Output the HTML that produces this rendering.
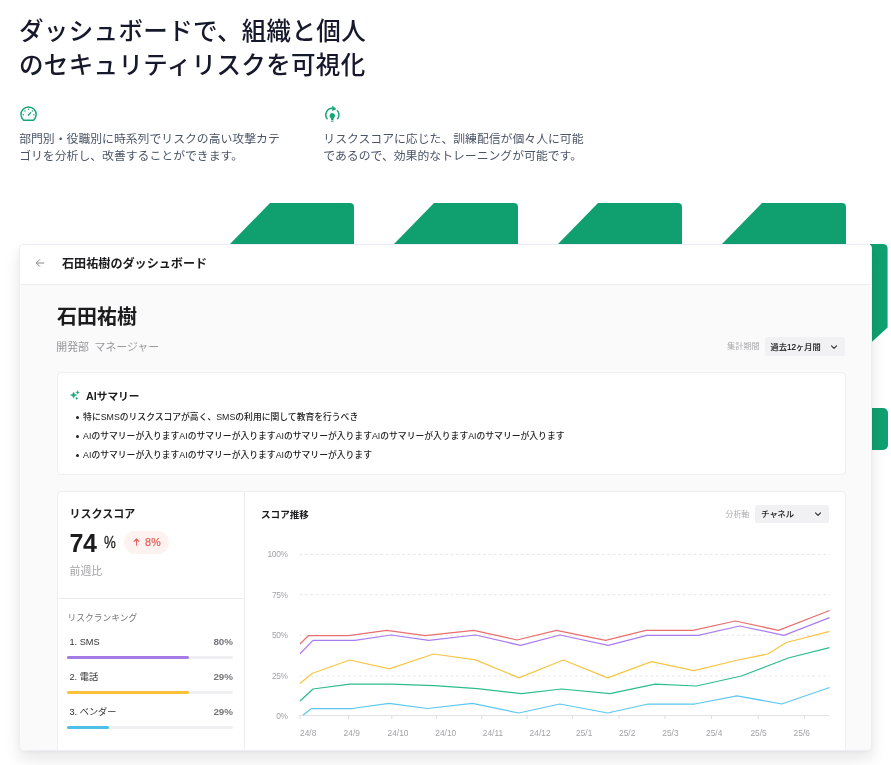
<!DOCTYPE html>
<html lang="ja">
<head>
<meta charset="utf-8">
<title>ダッシュボード</title>
<style>
*{box-sizing:border-box;margin:0;padding:0}
html,body{width:891px;height:765px;overflow:hidden;background:#fff}
body{position:relative;font-family:"Liberation Sans","Noto Sans CJK JP",sans-serif;color:#1a1b2e;-webkit-font-smoothing:antialiased}
.abs{position:absolute;white-space:nowrap}
h2{position:absolute;left:19px;top:12.700px;font-size:24.500px;line-height:33.900px;letter-spacing:.36px;font-weight:500;color:#16182b;white-space:nowrap;font-family:"Noto Sans CJK JP","Liberation Sans",sans-serif}
.desc{position:absolute;top:129.650px;font-size:11.850px;line-height:16.900px;color:#4b5567;white-space:nowrap;font-family:"Noto Sans CJK JP","Liberation Sans",sans-serif}
.tab{position:absolute;top:203px;width:124px;height:41px;background:#10a06f;border-top-right-radius:4px;clip-path:polygon(40px 0,100% 0,100% 100%,0 100%)}
.side1{position:absolute;left:870px;top:243.700px;width:17.600px;height:98px;background:#10a06f;border-top-right-radius:5px;clip-path:polygon(0 0,100% 0,100% 83.700px,2px 100%,0 100%)}
.side2{position:absolute;left:866px;top:407.700px;width:21.600px;height:42.300px;background:#10a06f;border-radius:0 5px 5px 0}
.panel{position:absolute;left:19px;top:243.500px;width:853px;height:507.500px;background:#fafafa;border-radius:4px;border:1px solid #eeeef4;box-shadow:0 8px 15px rgba(20,20,30,.10),0 1px 3px rgba(20,20,40,.03);overflow:hidden;font-family:"Liberation Sans","Noto Sans CJK JP",sans-serif;color:#1c1c1e}
.phead{position:absolute;left:0;top:0;width:100%;height:41px;background:#fff;border-bottom:1px solid #efeff1}
.card{position:absolute;background:#fff;border:1px solid #efeff2;border-radius:4px}
.sel{background:#f1f1f3;border-radius:2px;display:flex;align-items:center;justify-content:space-between;padding:0 7px 0 6px;font-size:8.200px;font-weight:400;color:#111;-webkit-text-stroke:.18px #111}
.sel span{position:relative;top:-.8px}
.sum{position:absolute;left:17.500px;top:35px;list-style:none;font-size:8.800px;line-height:18.900px;color:#222;font-weight:500;white-space:nowrap}
.sum li{position:relative;padding-left:7.600px}
.sum li:before{content:"";position:absolute;left:0;top:8.300px;width:3px;height:3px;border-radius:50%;background:#222}
.badge{background:#fdf2f0;border-radius:12px;color:#e8635c;font-size:10.600px;line-height:23.500px;text-align:center;font-weight:400;-webkit-text-stroke:.25px #e8635c;letter-spacing:.3px;padding-left:1px}
.rk{left:11.500px;font-size:9.200px;line-height:14px;color:#333}
.pc{left:125px;width:50px;text-align:right;font-size:9.800px;line-height:14px;color:#77777c;font-weight:700}
.bar{position:absolute;left:9px;width:166px;height:3px;border-radius:2px;background:#f0f0f2}
.bar i{display:block;height:3px;border-radius:2px}
</style>
</head>
<body>
<h2>ダッシュボードで、組織と個人<br>のセキュリティリスクを可視化</h2>

<svg class="abs" style="left:19px;top:104px" width="20" height="20" viewBox="0 0 20 20" fill="none" stroke="#17a673" stroke-width="1.500" stroke-linecap="round" stroke-linejoin="round"><path d="M4.52 16.2 A7.6 7.6 0 1 1 14.58 16.2 Z"/><path d="M9.55 10.9 L11.65 8.6" stroke-width="1.300"/><circle cx="9.55" cy="10.9" r="0.800" fill="#17a673" stroke="none"/><g fill="#17a673" stroke="none"><circle cx="9.55" cy="5.3" r=".75"/><circle cx="4.250000000000001" cy="10.7" r=".75"/><circle cx="14.850000000000001" cy="10.7" r=".75"/><circle cx="5.9" cy="7.0" r=".7"/><circle cx="13.3" cy="7.0" r=".7"/></g></svg>
<div class="desc" style="left:19.200px">部門別・役職別に時系列でリスクの高い攻撃カテ<br>ゴリを分析し、改善することができます。</div>

<svg class="abs" style="left:322px;top:104px" width="20" height="20" viewBox="0 0 20 20" fill="none" stroke="#17a673" stroke-width="1.500" stroke-linecap="butt" stroke-linejoin="round"><path d="M5.46 15.20 A6.55 6.55 0 0 1 10.63 4.35"/><path d="M10.40 2.05 L14.08 4.93 L10.40 6.65 Z" fill="#17a673" stroke-width=".5"/><path d="M15.11 6.35 A6.55 6.55 0 0 1 15.34 15.20"/><path d="M10.3 8.95 a2.75 2.75 0 0 1 1.55 5.02 l-.5 2.300 h-2.100 l-.5 -2.300 A2.75 2.75 0 0 1 10.3 8.95 z" fill="#17a673" stroke="none"/><path d="M9.4 17.300h1.800" stroke-width=".9" stroke-linecap="round"/></svg>
<div class="desc" style="left:323.300px">リスクスコアに応じた、訓練配信が個々人に可能<br>であるので、効果的なトレーニングが可能です。</div>

<div class="tab" style="left:230px"></div>
<div class="tab" style="left:394px"></div>
<div class="tab" style="left:558px"></div>
<div class="tab" style="left:722px"></div>
<div class="side1"></div>
<div class="side2"></div>

<div class="panel"><div class="abs" style="left:0;top:-.5px;width:852px;height:507px">
  <div class="phead"></div>
  <svg class="abs" style="left:15px;top:14.4px" width="10" height="10" viewBox="0 0 10 10" fill="none" stroke="#8a8a8f" stroke-width="1" stroke-linecap="round" stroke-linejoin="round"><path d="M8.8 5H1.3M4.7 1.600L1.300 5l3.400 3.400"/></svg>
  <div class="abs" style="left:42px;top:11.700px;font-size:12.100px;line-height:17px;font-weight:700">石田祐樹のダッシュボード</div>

  <div class="abs" style="left:37px;top:58px;font-size:20px;line-height:30px;font-weight:700">石田祐樹</div>
  <div class="abs" style="left:36.300px;top:95px;font-size:10.900px;word-spacing:2.500px;line-height:17px;color:#98989d">開発部 マネージャー</div>
  <div class="abs" style="left:707px;top:97px;font-size:8.2px;line-height:12px;color:#a9a9ae">集計期間</div>
  <div class="abs sel" style="left:744.600px;top:93.200px;width:80.500px;height:18.700px"><span>過去12ヶ月間</span><svg width="8" height="8" viewBox="0 0 8 8" fill="none" stroke="#333" stroke-width="1.2" stroke-linecap="round" stroke-linejoin="round"><path d="M1.5 2.8L4 5.3l2.5-2.5"/></svg></div>

  <!-- AI summary -->
  <div class="card" style="left:37px;top:128px;width:789px;height:103px">
    <svg class="abs" style="left:12px;top:17px" width="12" height="12" viewBox="0 0 12 12" fill="#17a673" stroke="#17a673" stroke-width=".4" stroke-linejoin="round"><path d="M3.60 1.90 L4.51 4.19 L6.80 5.10 L4.51 6.01 L3.60 8.30 L2.69 6.01 L0.40 5.10 L2.69 4.19Z"/><path d="M7.60 0.60 L8.11 1.89 L9.40 2.40 L8.11 2.91 L7.60 4.20 L7.09 2.91 L5.80 2.40 L7.09 1.89Z"/><circle cx="6.700" cy="8.300" r=".9"/></svg>
    <div class="abs" style="left:28px;top:14.700px;font-size:10.700px;line-height:16px;font-weight:700">AIサマリー</div>
    <ul class="sum">
      <li>特にSMSのリスクスコアが高く、SMSの利用に関して教育を行うべき</li>
      <li>AIのサマリーが入りますAIのサマリーが入りますAIのサマリーが入りますAIのサマリーが入りますAIのサマリーが入ります</li>
      <li>AIのサマリーが入りますAIのサマリーが入りますAIのサマリーが入ります</li>
    </ul>
  </div>

  <!-- score card -->
  <div class="card" style="left:37px;top:247px;width:789px;height:271px;border-radius:4px 4px 0 0">
    <div class="abs" style="left:185.500px;top:0;width:1px;height:270px;background:#ededf0"></div>
    <div class="abs" style="left:0;top:106.300px;width:186px;height:1px;background:#ededf0"></div>
    <div class="abs" style="left:11.500px;top:14.400px;font-size:11px;line-height:16px;font-weight:700">リスクスコア</div>
    <div class="abs" style="left:11.500px;top:35px;font-size:25px;line-height:32px;font-weight:700;letter-spacing:-.3px">74</div>
    <div class="abs" style="left:46.100px;top:40.300px;font-size:17px;line-height:22px;font-weight:400;color:#222;-webkit-text-stroke:.3px #222;transform:scaleX(.78);transform-origin:0 50%">%</div>
    <div class="abs badge" style="left:66.300px;top:38.700px;width:44.500px;height:23.500px"><svg width="7" height="8" viewBox="0 0 7 8" fill="none" stroke="#e8635c" stroke-width="1.100" stroke-linecap="round" stroke-linejoin="round" style="margin-right:5px"><path d="M3.500 7.200V1M1 3.400L3.500 .9 6 3.400"/></svg>8%</div>
    <div class="abs" style="left:11.500px;top:71px;font-size:10.900px;line-height:17px;color:#a3a3a8">前週比</div>

    <div class="abs" style="left:9.500px;top:118.700px;font-size:8.750px;line-height:14px;color:#77777c">リスクランキング</div>
    <div class="abs rk" style="top:142.700px">1. SMS</div><div class="abs pc" style="top:142.700px">80%</div>
    <div class="bar" style="top:164px"><i style="width:122px;background:#a57be6"></i></div>
    <div class="abs rk" style="top:178.100px">2. 電話</div><div class="abs pc" style="top:178.100px">29%</div>
    <div class="bar" style="top:199px"><i style="width:122px;background:#fbc13a"></i></div>
    <div class="abs rk" style="top:213.100px">3. ベンダー</div><div class="abs pc" style="top:213.100px">29%</div>
    <div class="bar" style="top:234px"><i style="width:42px;background:#4ec0e6"></i></div>

    <div class="abs" style="left:203px;top:15px;font-size:9.600px;line-height:15px;font-weight:700">スコア推移</div>
    <div class="abs" style="left:667.500px;top:16px;font-size:7.900px;line-height:13px;color:#adadb2">分析軸</div>
    <div class="abs sel" style="left:697.300px;top:13.200px;width:73.600px;height:18px"><span>チャネル</span><svg width="8" height="8" viewBox="0 0 8 8" fill="none" stroke="#333" stroke-width="1.200" stroke-linecap="round" stroke-linejoin="round"><path d="M1.500 2.800L4 5.300l2.500-2.500"/></svg></div>
    <!--CS--><svg class="abs" style="left:-1px;top:-1px" width="788" height="270" viewBox="57 491 788 270" font-family="Liberation Sans, sans-serif" font-size="8.400" letter-spacing="-0.35" fill="#a3a3a8">
<line x1="299.5" x2="829.6" y1="554.4" y2="554.4" stroke="#e6e6e9" stroke-width="1" stroke-dasharray="2.7 2.7"/>
<text x="287.6" y="557.3" text-anchor="end">100%</text>
<line x1="299.5" x2="829.6" y1="594.7" y2="594.7" stroke="#e6e6e9" stroke-width="1" stroke-dasharray="2.7 2.7"/>
<text x="287.6" y="597.6" text-anchor="end">75%</text>
<line x1="299.5" x2="829.6" y1="635.3" y2="635.3" stroke="#e6e6e9" stroke-width="1" stroke-dasharray="2.7 2.7"/>
<text x="287.6" y="638.1999999999999" text-anchor="end">50%</text>
<line x1="299.5" x2="829.6" y1="676" y2="676" stroke="#e6e6e9" stroke-width="1" stroke-dasharray="2.7 2.7"/>
<text x="287.6" y="678.9" text-anchor="end">25%</text>
<line x1="299.5" x2="829.6" y1="715.5" y2="715.5" stroke="#e3e3e6" stroke-width="1"/>
<text x="287.6" y="718.7" text-anchor="end">0%</text>
<line x1="300" x2="300" y1="715.5" y2="719.0" stroke="#dcdce0" stroke-width="1"/>
<line x1="348.6" x2="348.6" y1="715.5" y2="719.0" stroke="#dcdce0" stroke-width="1"/>
<line x1="391.8" x2="391.8" y1="715.5" y2="719.0" stroke="#dcdce0" stroke-width="1"/>
<line x1="436.4" x2="436.4" y1="715.5" y2="719.0" stroke="#dcdce0" stroke-width="1"/>
<line x1="481.7" x2="481.7" y1="715.5" y2="719.0" stroke="#dcdce0" stroke-width="1"/>
<line x1="527" x2="527" y1="715.5" y2="719.0" stroke="#dcdce0" stroke-width="1"/>
<line x1="572.4" x2="572.4" y1="715.5" y2="719.0" stroke="#dcdce0" stroke-width="1"/>
<line x1="619" x2="619" y1="715.5" y2="719.0" stroke="#dcdce0" stroke-width="1"/>
<line x1="665" x2="665" y1="715.5" y2="719.0" stroke="#dcdce0" stroke-width="1"/>
<line x1="711.6" x2="711.6" y1="715.5" y2="719.0" stroke="#dcdce0" stroke-width="1"/>
<line x1="758.3" x2="758.3" y1="715.5" y2="719.0" stroke="#dcdce0" stroke-width="1"/>
<line x1="804.4" x2="804.4" y1="715.5" y2="719.0" stroke="#dcdce0" stroke-width="1"/>
<text x="300" y="736.3" letter-spacing="0">24/8</text>
<text x="343.6" y="736.3" letter-spacing="0">24/9</text>
<text x="387.5" y="736.3" letter-spacing="0">24/10</text>
<text x="435.3" y="736.3" letter-spacing="0">24/10</text>
<text x="482.8" y="736.3" letter-spacing="0">24/11</text>
<text x="529.6" y="736.3" letter-spacing="0">24/12</text>
<text x="576" y="736.3" letter-spacing="0">25/1</text>
<text x="619" y="736.3" letter-spacing="0">25/2</text>
<text x="662.3" y="736.3" letter-spacing="0">25/3</text>
<text x="706" y="736.3" letter-spacing="0">25/4</text>
<text x="750.4" y="736.3" letter-spacing="0">25/5</text>
<text x="793.6" y="736.3" letter-spacing="0">25/6</text>
<polyline points="300,644 308.3,635.7 348.6,635.7 386.8,630.3 425.3,635.7 473.8,630.3 517,640 556.5,630.3 605.6,640.3 646,630.3 693,630.3 735.3,621 778.5,630.3 829.6,610.5" fill="none" stroke="#e8706e" stroke-width="1.25" stroke-linejoin="round"/>
<polyline points="300,653.7 313,640.4 355,640.4 391,635 428.8,640.4 475.6,635 520.6,645.4 560,635 608.3,645.4 646.8,635.3 698.3,635.3 739.6,626 783.9,635.3 829.6,617.7" fill="none" stroke="#a97df0" stroke-width="1.25" stroke-linejoin="round"/>
<polyline points="300,683.5 312,673.5 349.7,660 389.3,668.8 433.5,654 475.6,659.8 518.8,677.8 563.4,660 607.6,677.8 651.5,661.6 694,670.6 736,660.5 767.7,654 786.4,642.5 829.6,631.4" fill="none" stroke="#f8c545" stroke-width="1.25" stroke-linejoin="round"/>
<polyline points="300,701 313,689 349.7,684.2 391,684.2 434.2,685.7 477.4,688.6 521.7,693.6 561.6,689 610,693.6 655,684.2 696.5,686 741.4,676 788.2,658 829.6,647.6" fill="none" stroke="#2dbd8c" stroke-width="1.25" stroke-linejoin="round"/>
<polyline points="303,715.3 311.5,708.5 352.3,708.5 389,703.4 427.5,708.5 472.4,703.4 518.8,713 559.8,704 607.6,713 648,704 694.7,704 737,695.8 781.7,704 829.6,687.5" fill="none" stroke="#5cc8ee" stroke-width="1.25" stroke-linejoin="round"/>
</svg><!--CE-->
  </div>
</div></div>
</body>
</html>
